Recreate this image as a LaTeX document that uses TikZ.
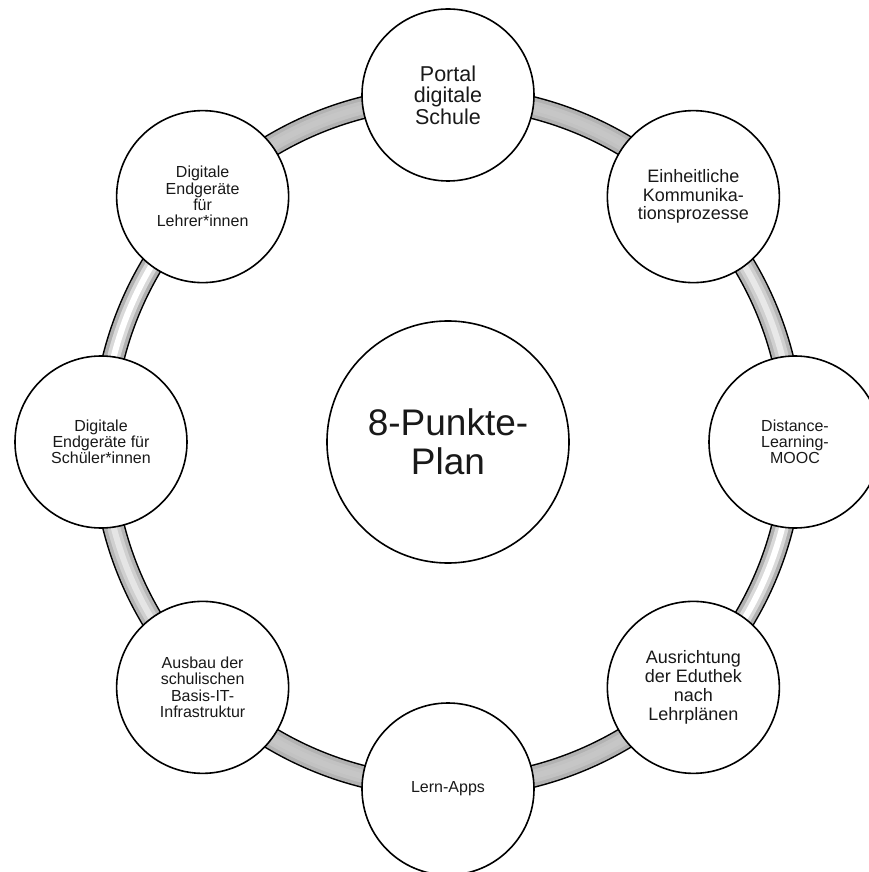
\documentclass[tikz,border=0pt]{standalone}
\usepackage{fontspec}
\setmainfont{Liberation Sans}
\begin{document}
\begin{tikzpicture}[x=1pt,y=1pt,
  point/.style={circle, draw=black, line width=1.6pt, fill=white,
    minimum size=172pt, inner sep=0pt, align=center, text=black!90},
  hub/.style={point, minimum size=242pt},
  fs/.style 2 args={font=\fontsize{#1}{#2}\selectfont},
  bandedge/.style={draw=black, line width=23pt},
]
\useasboundingbox (-448,442) rectangle (421,-430);
\fill[white] (-448,442) rectangle (421,-430);

% ring band, one arc per segment, shaded in layers
\def\R{345}
\foreach \a/\c/\m/\h in {
   90/gray!60/gray!48/gray!45,
   45/gray!58/gray!38/gray!18,
    0/gray!62/gray!30/white,
  -45/gray!60/gray!48/gray!45,
  -90/gray!60/gray!48/gray!45,
 -135/gray!58/gray!38/gray!20,
  180/gray!62/gray!30/white,
  135/gray!60/gray!48/gray!45}{
  \draw[line width=23pt, black] (\a:\R) arc[start angle=\a, end angle=\a-45, radius=\R];
  \draw[line width=20pt, \c] (\a:\R) arc[start angle=\a, end angle=\a-45, radius=\R];
  \draw[line width=13pt, \m] (\a:\R) arc[start angle=\a, end angle=\a-45, radius=\R];
  \draw[line width=6pt, \h] (\a:\R) arc[start angle=\a, end angle=\a-45, radius=\R];
}

% centre
\node[hub, fs={37}{39}] (plan) at (0,0) {8-Punkte-\\Plan};

% the eight points
\node[point, fs={21.5}{21.5}] (portal) at (90:347) {Portal\\digitale\\Schule};
\node[point, fs={18}{18.7}] (komm) at (45:347) {Einheitliche\\Kommunika-\\tionsprozesse};
\node[point, fs={16}{16}] (mooc) at (0:347) {Distance-\\Learning-\\MOOC};
\node[point, fs={18}{19.3}] (eduthek) at (-45:347) {Ausrichtung\\der Eduthek\\nach\\Lehrplänen};
\node[point, fs={16}{16}] (apps) at (-90:347) {Lern-Apps};
\node[point, fs={16}{16.3}] (basis) at (-135:347) {Ausbau der\\schulischen\\Basis-IT-\\Infrastruktur};
\node[point, fs={16}{16}] (schueler) at (180:347) {Digitale\\Endgeräte für\\Schüler*innen};
\node[point, fs={16}{16.3}] (lehrer) at (135:347) {Digitale\\Endgeräte\\für\\Lehrer*innen};
\end{tikzpicture}
\end{document}
